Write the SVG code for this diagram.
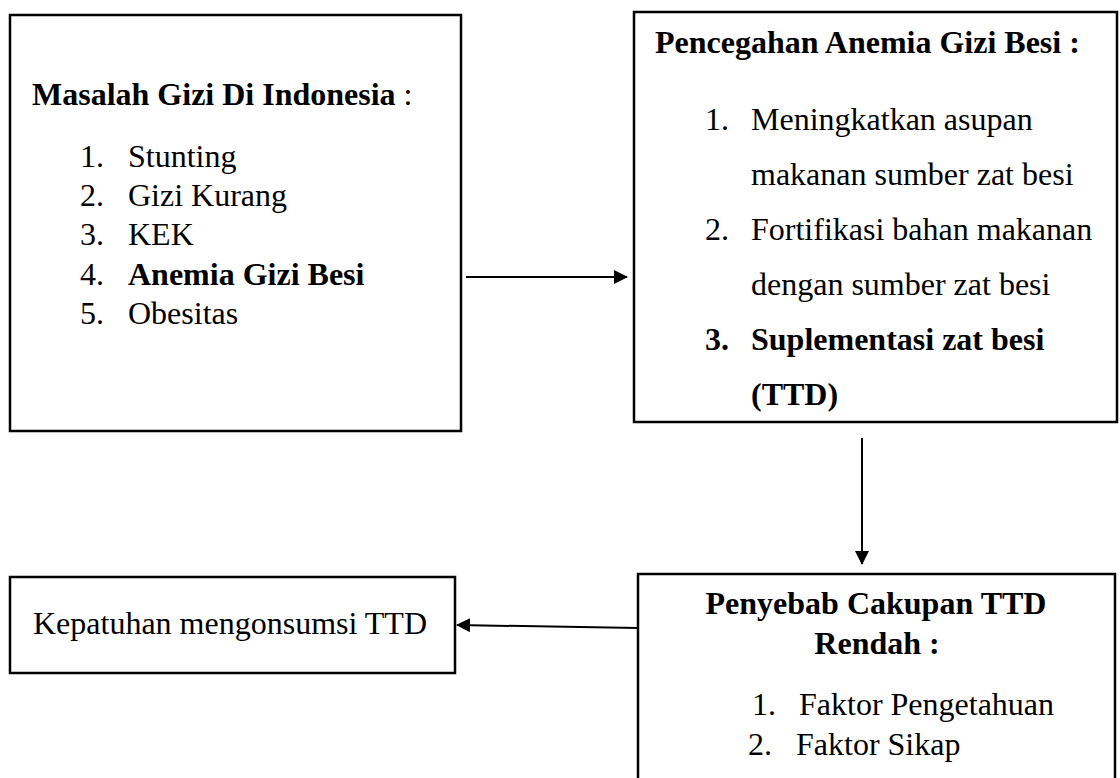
<svg xmlns="http://www.w3.org/2000/svg" width="1120" height="778" viewBox="0 0 1120 778">
<style>
text { font-family: "Liberation Serif", "Times New Roman", serif; font-size: 32px; fill: #000; }
.b { font-weight: bold; }
.box { fill: #fff; stroke: #000; stroke-width: 2.5; }
.edge { stroke: #000; stroke-width: 2; fill: none; }
</style>
<defs>
<marker id="ah" markerWidth="14" markerHeight="14" refX="13" refY="7" orient="auto" markerUnits="userSpaceOnUse">
<path d="M0,0 L14,7 L0,14 Z" fill="#000"/>
</marker>
</defs>
<rect width="1120" height="778" fill="#fff"/>
<g id="node-masalah">
<rect class="box" x="10" y="15" width="451" height="416"/>
<text x="32" y="105"><tspan class="b">Masalah Gizi Di Indonesia</tspan> :</text>
<text x="80" y="167">1.</text><text x="128" y="167">Stunting</text>
<text x="80" y="206">2.</text><text x="128" y="206">Gizi Kurang</text>
<text x="80" y="245">3.</text><text x="128" y="245">KEK</text>
<text x="80" y="285">4.</text><text x="128" y="285" class="b">Anemia Gizi Besi</text>
<text x="80" y="324">5.</text><text x="128" y="324">Obesitas</text>
</g>
<g id="node-pencegahan">
<rect class="box" x="634" y="12" width="483" height="410"/>
<text x="655" y="53" class="b">Pencegahan Anemia Gizi Besi :</text>
<text x="705" y="130">1.</text><text x="751" y="130">Meningkatkan asupan</text>
<text x="751" y="185">makanan sumber zat besi</text>
<text x="705" y="240">2.</text><text x="751" y="240">Fortifikasi bahan makanan</text>
<text x="751" y="295">dengan sumber zat besi</text>
<text x="705" y="350" class="b">3.</text><text x="751" y="350" class="b">Suplementasi zat besi</text>
<text x="751" y="405" class="b">(TTD)</text>
</g>
<g id="node-penyebab">
<rect class="box" x="638" y="574" width="477" height="230"/>
<text x="876" y="614" class="b" text-anchor="middle">Penyebab Cakupan TTD</text>
<text x="877" y="654" class="b" text-anchor="middle">Rendah :</text>
<text x="752" y="715">1.</text><text x="799" y="715">Faktor Pengetahuan</text>
<text x="748" y="755">2.</text><text x="796" y="755">Faktor Sikap</text>
</g>
<g id="node-kepatuhan">
<rect class="box" x="10" y="577" width="445" height="96"/>
<text x="33" y="634">Kepatuhan mengonsumsi TTD</text>
</g>
<g id="connectors">
<line class="edge" x1="466" y1="277" x2="627" y2="277" marker-end="url(#ah)"/>
<line class="edge" x1="862" y1="438" x2="862" y2="564" marker-end="url(#ah)"/>
<line class="edge" x1="638" y1="628" x2="457" y2="625" marker-end="url(#ah)"/>
</g>
</svg>
